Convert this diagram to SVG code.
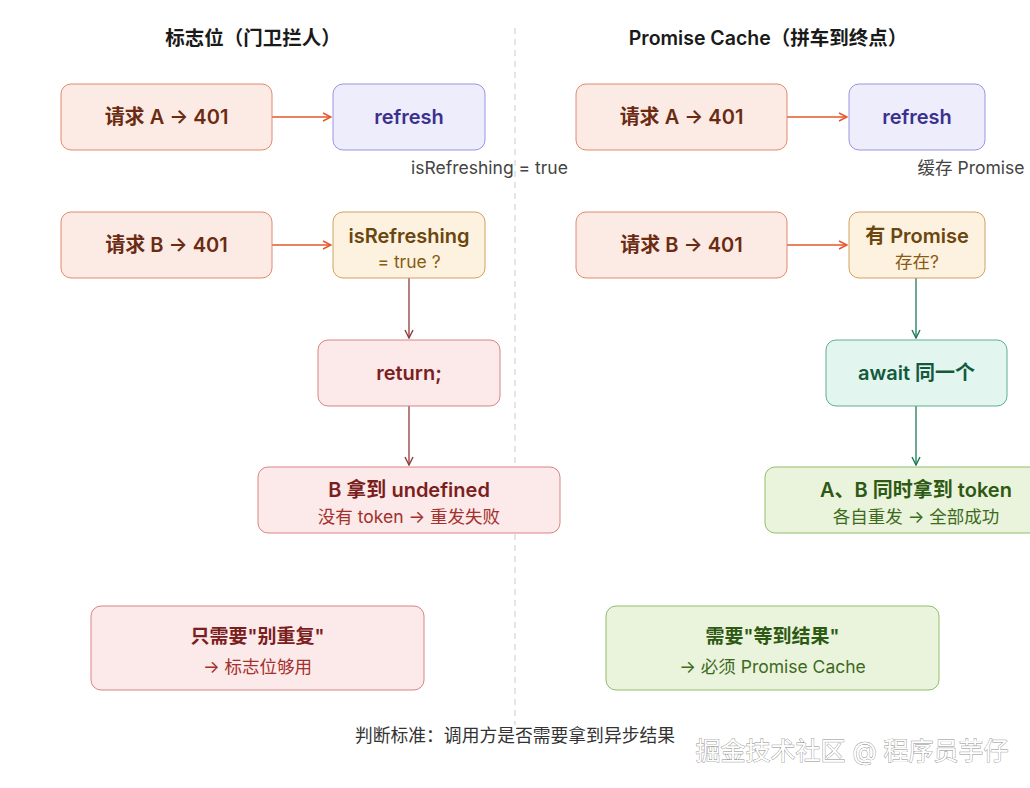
<svg xmlns="http://www.w3.org/2000/svg" width="1030" height="788" viewBox="0 0 1030 788">
<defs>
<style>
text{font-family:Inter,"Noto Sans CJK SC",sans-serif;text-anchor:middle}
.title{font-size:19.5px;font-weight:600;fill:#1a1a1a}
.m{font-size:20px;font-weight:600}
.s{font-size:17.5px;font-weight:400}
.lbl{font-size:17.5px;fill:#444}
.req rect{fill:#fcebe5;stroke:#e08a6c;stroke-width:1}
.req text{fill:#6b2b12}
.ref rect{fill:#eeedfc;stroke:#9b93e0;stroke-width:1}
.ref text{fill:#3a318f}
.chk rect{fill:#fdf2df;stroke:#d3a061;stroke-width:1}
.chk text{fill:#6b460f}
.chk text.s{fill:#8a5a12}
.bad rect{fill:#fce9e9;stroke:#d98484;stroke-width:1}
.bad text{fill:#7a1e1e}
.bad text.s{fill:#a3302c}
.wait rect{fill:#e2f5ee;stroke:#5eaf8c;stroke-width:1}
.wait text{fill:#135a3d}
.ok rect{fill:#eaf3dc;stroke:#91bd6a;stroke-width:1}
.ok text{fill:#2d5912}
.ok text.s{fill:#3d6b1c}
.c{fill:none;stroke-width:1.3}
</style>
<marker id="ao" viewBox="0 0 10 10" refX="9" refY="5" markerWidth="10" markerHeight="10" markerUnits="userSpaceOnUse" orient="auto"><path d="M1,1 L9,5 L1,9" fill="none" stroke="#e4572a" stroke-width="1.4"/></marker>
<marker id="ar" viewBox="0 0 10 10" refX="9" refY="5" markerWidth="10" markerHeight="10" markerUnits="userSpaceOnUse" orient="auto"><path d="M1,1 L9,5 L1,9" fill="none" stroke="#8e3b3b" stroke-width="1.4"/></marker>
<marker id="ag" viewBox="0 0 10 10" refX="9" refY="5" markerWidth="10" markerHeight="10" markerUnits="userSpaceOnUse" orient="auto"><path d="M1,1 L9,5 L1,9" fill="none" stroke="#1b7a55" stroke-width="1.4"/></marker>
</defs>
<rect width="1030" height="788" fill="#ffffff"/>
<line x1="515" y1="28" x2="515" y2="725" stroke="#dddddd" stroke-width="1.5" stroke-dasharray="6,5"/>

<text class="title" x="253" y="45">标志位（门卫拦人）</text>
<text class="title" x="768" y="45">Promise Cache（拼车到终点）</text>

<g id="connectors">
<line class="c" x1="272" y1="117" x2="331" y2="117" stroke="#e4572a" marker-end="url(#ao)"/>
<line class="c" x1="272" y1="245" x2="331" y2="245" stroke="#e4572a" marker-end="url(#ao)"/>
<line class="c" x1="409" y1="278" x2="409" y2="338" stroke="#8e3b3b" marker-end="url(#ar)"/>
<line class="c" x1="409" y1="406" x2="409" y2="465" stroke="#8e3b3b" marker-end="url(#ar)"/>
<line class="c" x1="787" y1="117" x2="847" y2="117" stroke="#e4572a" marker-end="url(#ao)"/>
<line class="c" x1="787" y1="245" x2="847" y2="245" stroke="#e4572a" marker-end="url(#ao)"/>
<line class="c" x1="916" y1="278" x2="916" y2="338" stroke="#1b7a55" marker-end="url(#ag)"/>
<line class="c" x1="916" y1="406" x2="916" y2="465" stroke="#1b7a55" marker-end="url(#ag)"/>
<text class="lbl" x="489.5" y="174">isRefreshing = true</text>
<text class="lbl" x="971" y="174">缓存 Promise</text>
</g>

<g id="l-reqA" class="req"><rect x="61" y="84" width="211" height="66" rx="10"/><text class="m" x="166.5" y="124">请求 A → 401</text></g>
<g id="l-refresh" class="ref"><rect x="333" y="84" width="152" height="66" rx="10"/><text class="m" x="409" y="124">refresh</text></g>
<g id="l-reqB" class="req"><rect x="61" y="212" width="211" height="66" rx="10"/><text class="m" x="166.5" y="252">请求 B → 401</text></g>
<g id="l-check" class="chk"><rect x="333" y="212" width="152" height="66" rx="10"/><text class="m" x="409" y="243">isRefreshing</text><text class="s" x="409" y="268">= true ?</text></g>
<g id="l-return" class="bad"><rect x="318" y="340" width="182" height="66" rx="10"/><text class="m" x="409" y="380">return;</text></g>
<g id="l-undef" class="bad"><rect x="258" y="467" width="302" height="66" rx="10"/><text class="m" x="409" y="497">B 拿到 undefined</text><text class="s" x="409" y="523">没有 token → 重发失败</text></g>
<g id="l-sum" class="bad"><rect x="91" y="606" width="333" height="84" rx="10"/><text class="m" x="257.5" y="643" style="font-size:19px">只需要"别重复"</text><text class="s" x="257.5" y="673">→ 标志位够用</text></g>

<g id="r-reqA" class="req"><rect x="576" y="84" width="211" height="66" rx="10"/><text class="m" x="681.5" y="124">请求 A → 401</text></g>
<g id="r-refresh" class="ref"><rect x="849" y="84" width="136" height="66" rx="10"/><text class="m" x="917" y="124">refresh</text></g>
<g id="r-reqB" class="req"><rect x="576" y="212" width="211" height="66" rx="10"/><text class="m" x="681.5" y="252">请求 B → 401</text></g>
<g id="r-check" class="chk"><rect x="849" y="212" width="136" height="66" rx="10"/><text class="m" x="917" y="243">有 Promise</text><text class="s" x="917" y="268">存在?</text></g>
<g id="r-await" class="wait"><rect x="826" y="340" width="181" height="66" rx="10"/><text class="m" x="916.5" y="380">await 同一个</text></g>
<g id="r-ok" class="ok"><rect x="765" y="467" width="280" height="66" rx="10"/><text class="m" x="916" y="497">A、B 同时拿到 token</text><text class="s" x="916" y="523">各自重发 → 全部成功</text></g>
<g id="r-sum" class="ok"><rect x="606" y="606" width="333" height="84" rx="10"/><text class="m" x="772.5" y="643" style="font-size:19px">需要"等到结果"</text><text class="s" x="772.5" y="673">→ 必须 Promise Cache</text></g>

<text x="515" y="742" style="font-size:17.8px;fill:#333">判断标准：调用方是否需要拿到异步结果</text>
<text x="852" y="760" style="font-size:25px;fill:#ffffff;stroke:#8a8a8a;stroke-width:0.8;paint-order:stroke">掘金技术社区 @ 程序员芋仔</text>
</svg>
